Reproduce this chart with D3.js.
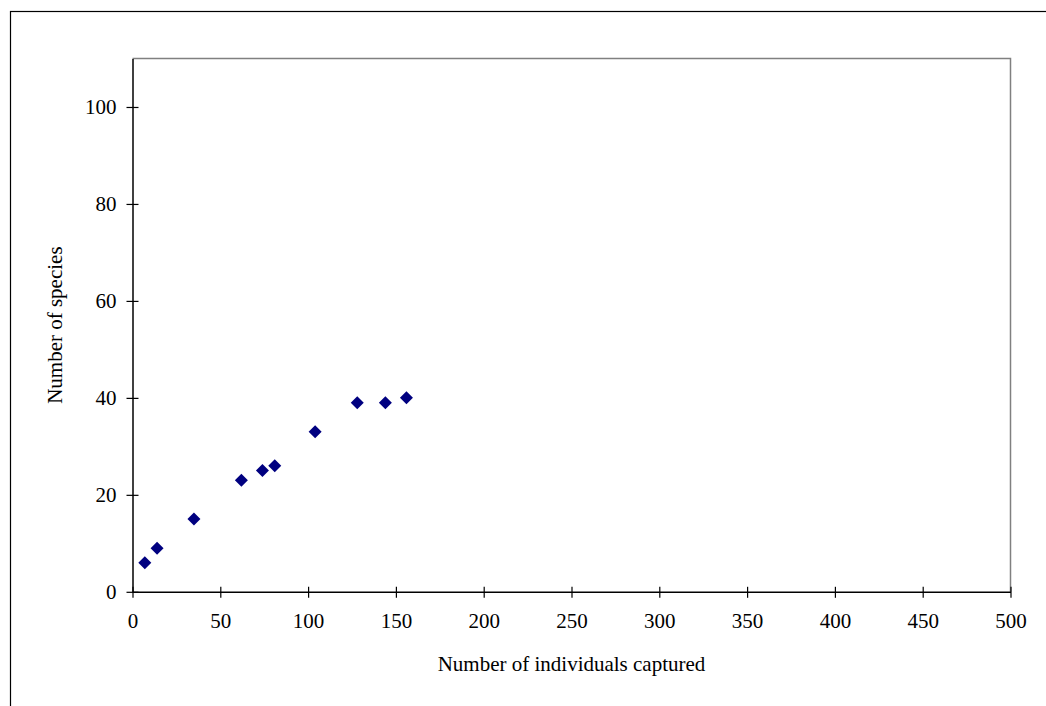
<!DOCTYPE html>
<html>
<head>
<meta charset="utf-8">
<script src="https://cdn.jsdelivr.net/npm/d3@7"></script>
<style>
  html, body { margin: 0; padding: 0; background: #fff; }
  svg { display: block; font-family: 'Liberation Serif', 'Times New Roman', serif; }
</style>
</head>
<body>
<script>
const individuals = [7, 14, 35, 62, 74, 81, 104, 128, 144, 156]
const species = [6, 9, 15, 23, 25, 26, 33, 39, 39, 40]
const xTicks = [0, 50, 100, 150, 200, 250, 300, 350, 400, 450, 500]
const yTicks = [0, 20, 40, 60, 80, 100]

const width = 1046
const height = 706
const margins = { top: 58.5, right: 35, bottom: 114, left: 132.5 }

const data = individuals.map((x, i) => ({ x, y: species[i] }))

const svg = d3.select('body').append('svg')
  .attr('width', width)
  .attr('height', height)

// outer chart frame (runs off right and bottom edges)
svg.append('rect')
  .attr('x', 10.5).attr('y', 11.5)
  .attr('width', 1100).attr('height', 800)
  .attr('fill', 'none')
  .attr('stroke', '#000')
  .attr('stroke-width', 1.2)

const xScale = d3.scaleLinear()
  .domain([0, 500])
  .range([margins.left, width - margins.right - 0.5])
const yScale = d3.scaleLinear()
  .domain([0, 110])
  .range([height - margins.bottom - 0.2, margins.top])

// plot area border (gray top/right)
svg.append('path')
  .attr('d', `M${xScale(0)},${yScale(110)}H${xScale(500)}V${yScale(0)}`)
  .attr('fill', 'none')
  .attr('stroke', '#808080')
  .attr('stroke-width', 1.5)

const xAxis = svg.append('g')
  .attr('transform', `translate(0,${yScale(0)})`)
  .call(d3.axisBottom(xScale).tickValues(xTicks).tickSizeInner(0).tickSizeOuter(0).tickPadding(21))
xAxis.selectAll('.tick line').attr('y1', -5).attr('y2', 6)

const yAxis = svg.append('g')
  .attr('transform', `translate(${xScale(0)},0)`)
  .call(d3.axisLeft(yScale).tickValues(yTicks).tickSizeInner(0).tickSizeOuter(0).tickPadding(16))
yAxis.selectAll('.tick line').attr('x1', -6).attr('x2', 6)

svg.selectAll('.domain').attr('stroke', '#000').attr('stroke-width', 1.5)
svg.selectAll('.tick line').attr('stroke', '#000').attr('stroke-width', 1.2)
svg.selectAll('.tick text')
  .attr('font-family', "'Liberation Serif', serif")
  .attr('font-size', 21)
  .attr('fill', '#000')

svg.append('g')
  .selectAll('path')
  .data(data)
  .enter()
  .append('path')
  .attr('d', 'M0,-6.5L6.5,0L0,6.5L-6.5,0Z')
  .attr('transform', d => `translate(${xScale(d.x)},${yScale(d.y)})`)
  .attr('fill', '#000080')

svg.append('text')
  .attr('x', (xScale(0) + xScale(500)) / 2)
  .attr('y', 671)
  .attr('text-anchor', 'middle')
  .attr('font-size', 21)
  .text('Number of individuals captured')

svg.append('text')
  .attr('transform', `translate(62,${(yScale(0) + yScale(110)) / 2}) rotate(-90)`)
  .attr('text-anchor', 'middle')
  .attr('font-size', 21)
  .text('Number of species')
</script>
</body>
</html>
